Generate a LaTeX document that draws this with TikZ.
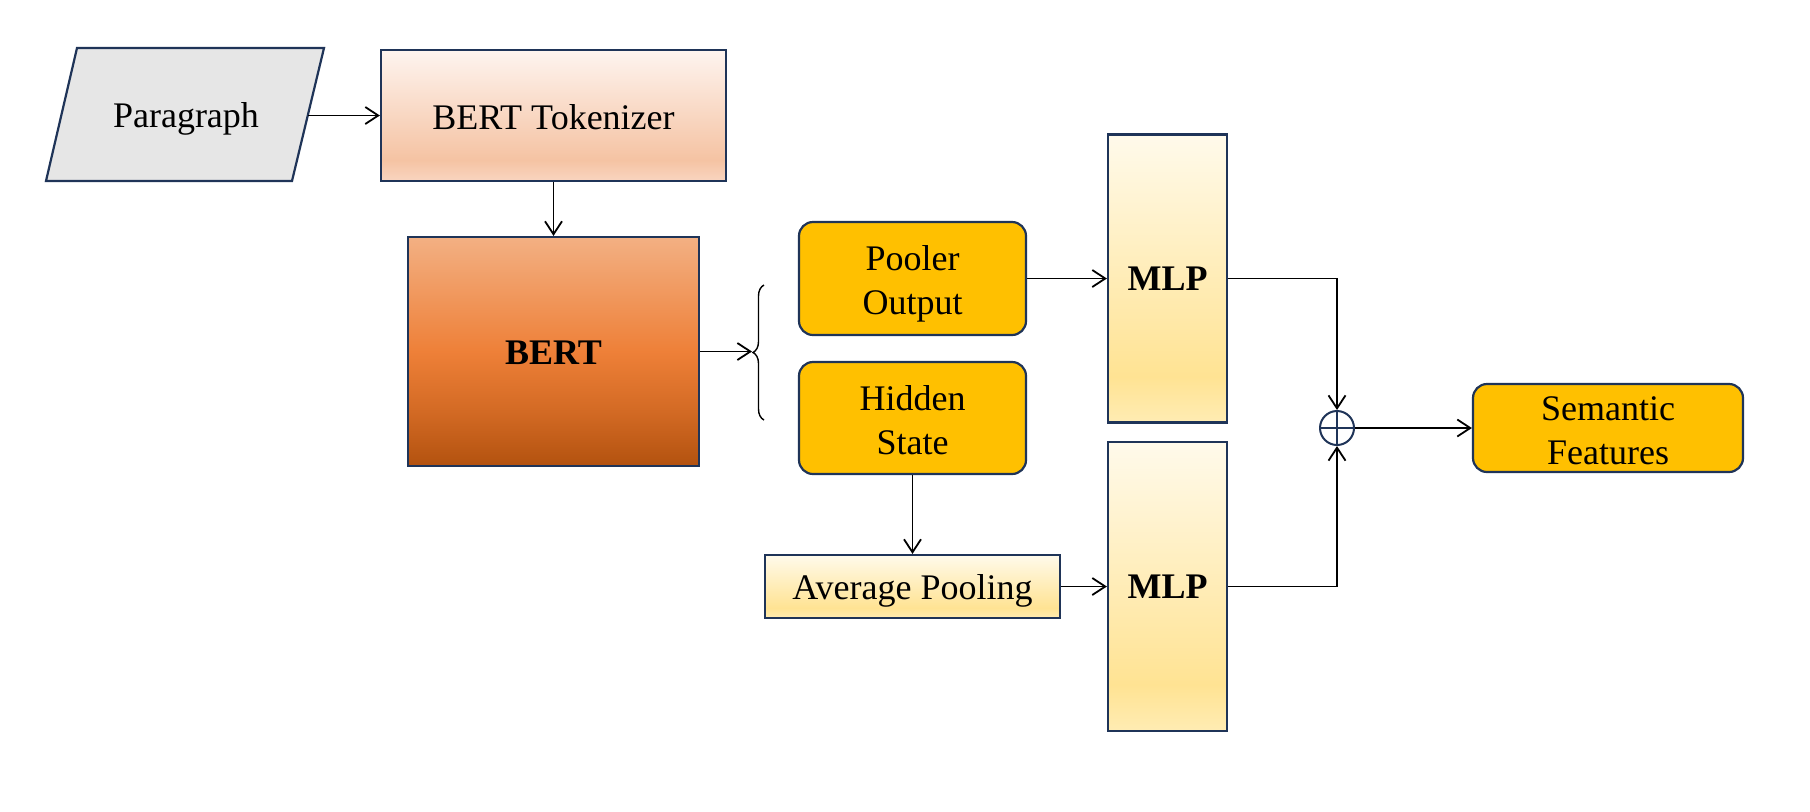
\documentclass[tikz,border=0pt]{standalone}
\usepackage{fontspec}
\setmainfont{Liberation Serif}
\usetikzlibrary{arrows.meta,decorations.pathreplacing,calc}

\definecolor{navy}{HTML}{1F3458}
\definecolor{gold}{HTML}{FFC000}
\definecolor{paragray}{HTML}{E6E6E6}
\definecolor{tokB}{HTML}{F9D5C0}
\definecolor{tokM}{HTML}{F5C3A3}
\definecolor{tokT}{HTML}{FEF4EF}
\definecolor{bertB}{HTML}{B3520F}
\definecolor{bertL}{HTML}{D36A24}
\definecolor{bertM}{HTML}{EE8038}
\definecolor{bertT}{HTML}{F3B083}
\definecolor{mlpB}{HTML}{FFECB3}
\definecolor{mlpM}{HTML}{FFE393}
\definecolor{mlpT}{HTML}{FFFAEB}

\pgfdeclareverticalshading{tokshade}{100bp}{color(0bp)=(tokB); color(25bp)=(tokB); color(33bp)=(tokM); color(75bp)=(tokT); color(100bp)=(tokT)}
\pgfdeclareverticalshading{bertshade}{100bp}{color(0bp)=(bertB); color(25bp)=(bertB); color(37bp)=(bertL); color(50bp)=(bertM); color(75bp)=(bertT); color(100bp)=(bertT)}
\pgfdeclareverticalshading{mlpshade}{100bp}{color(0bp)=(mlpB); color(25bp)=(mlpB); color(33bp)=(mlpM); color(75bp)=(mlpT); color(100bp)=(mlpT)}

\newcommand{\dntext}[2]{\raisebox{-#1}[\height][\depth]{#2}}

\begin{document}
\begin{tikzpicture}[x=0.5pt,y=-0.5pt,
  txt/.style={font=\fontsize{18}{22}\selectfont,align=center},
  box/.style={txt,draw=navy,line width=1.1pt,inner sep=0pt},
  yel/.style={box,fill=gold,rounded corners=7pt},
  conn/.style={line width=0.9pt,-{Straight Barb[length=6.5pt,width=8.5pt,line width=0.9pt]}}
]
\useasboundingbox[fill=white] (0,0) rectangle (1810,811);

% Paragraph (parallelogram)
\draw[draw=navy,line width=1.1pt,fill=paragray] (77,48) -- (324,48) -- (292,181) -- (46,181) -- cycle;
\node[txt] (para) at (186,119) {Paragraph};
\coordinate (paraR) at (308,115.5);

\node[box,shading=tokshade,minimum width=172.5pt,minimum height=65.5pt] (tok) at (553.5,115.5) {\dntext{0.8pt}{BERT Tokenizer}};
\node[box,shading=bertshade,minimum width=145.5pt,minimum height=114.5pt,font=\fontsize{18}{22}\selectfont\bfseries] (bert) at (553.5,351.5) {\dntext{0.8pt}{BERT}};

% brace
\draw[line width=0.7pt,decorate,decoration={brace,amplitude=5.5pt}] (764,420) -- (764,285);
\coordinate (bt) at (752,352);

\node[yel,minimum width=113.5pt,minimum height=56.5pt] (pool) at (912.5,278.5) {\dntext{2.5pt}{\begin{tabular}{@{}c@{}}Pooler\\Output\end{tabular}}};
\node[yel,minimum width=113.5pt,minimum height=56pt] (hid) at (912.5,418) {\dntext{2.7pt}{\begin{tabular}{@{}c@{}}Hidden\\State\end{tabular}}};
\node[box,shading=mlpshade,minimum width=147.5pt,minimum height=31.5pt] (avg) at (912.5,586.5) {\dntext{2pt}{Average Pooling}};

\node[box,shading=mlpshade,minimum width=59.5pt,minimum height=144pt,font=\fontsize{18}{22}\selectfont\bfseries] (mlp1) at (1167.5,278.5) {MLP};
\node[box,shading=mlpshade,minimum width=59.5pt,minimum height=144.5pt,font=\fontsize{18}{22}\selectfont\bfseries] (mlp2) at (1167.5,586.5) {MLP};

\node[circle,draw=navy,line width=1pt,minimum size=17pt,inner sep=0pt,
  path picture={\draw[navy,line width=1pt] (path picture bounding box.north) -- (path picture bounding box.south) (path picture bounding box.west) -- (path picture bounding box.east);}] (op) at (1337,428) {};

\node[yel,minimum width=135pt,minimum height=43pt] (sem) at (1608,428) {\dntext{2.7pt}{\begin{tabular}{@{}c@{}}Semantic\\Features\end{tabular}}};

% connectors
\draw[conn] (paraR) -- (paraR -| tok.west);
\draw[conn] (tok.south) -- (bert.north);
\draw[conn] (bert.east) -- (bert.east -| bt);
\draw[conn] (pool.east) -- (pool.east -| mlp1.west);
\draw[conn] (hid.south) -- (avg.north);
\draw[conn] (avg.east) -- (avg.east -| mlp2.west);
\draw[conn] (mlp1.east) -| (op.north);
\draw[conn] (mlp2.east) -| (op.south);
\draw[conn] (op.east) -- (op.east -| sem.west);
\end{tikzpicture}
\end{document}
